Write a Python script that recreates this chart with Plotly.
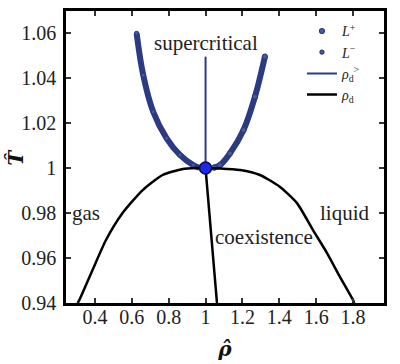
import plotly.graph_objects as go

# coexistence curve (rho, T)
coex_rho = [0.306, 0.315, 0.387, 0.460, 0.550, 0.659, 0.767, 0.876, 0.950, 1.000, 1.080,
            1.187, 1.295, 1.404, 1.496, 1.583, 1.659, 1.729, 1.800, 1.806]
coex_T = [0.9400, 0.9413, 0.9547, 0.9680, 0.9800, 0.9902, 0.9969, 0.9996, 1.0000, 1.0000, 0.9998,
          0.9991, 0.9969, 0.9916, 0.9844, 0.9724, 0.9622, 0.9516, 0.9413, 0.9400]

# diameter rho_d
diam_rho = [1.000, 1.062]
diam_T = [1.000, 0.940]

# supercritical diameter rho_d^>
sup_rho = [1.000, 1.000]
sup_T = [1.000, 1.0495]

# L- branch (low density) and L+ branch (high density)
lm_rho = [0.626, 0.662, 0.716, 0.789, 0.861, 0.933, 0.965]
lm_T = [1.0599, 1.0413, 1.0250, 1.0132, 1.0058, 1.0013, 1.0002]
lp_rho = [1.045, 1.078, 1.132, 1.206, 1.268, 1.322]
lp_T = [1.0002, 1.0013, 1.0065, 1.0169, 1.0317, 1.0495]

crit_rho = [1.0]
crit_T = [1.0]

x_ticks = [0.4, 0.6, 0.8, 1.0, 1.2, 1.4, 1.6, 1.8]
x_labels = ["0.4", "0.6", "0.8", "1", "1.2", "1.4", "1.6", "1.8"]
y_ticks = [0.94, 0.96, 0.98, 1.0, 1.02, 1.04, 1.06]
y_labels = ["0.94", "0.96", "0.98", "1", "1.02", "1.04", "1.06"]

SERIF = "'Liberation Serif', 'DejaVu Serif', serif"
TSERIF = "'DejaVu Serif', serif"
BAND = "#2c3a82"

fig = go.Figure()

# band lines (no legend)
for r, t in [(lm_rho, lm_T), (lp_rho, lp_T)]:
    fig.add_trace(go.Scatter(x=r, y=t, mode="lines", line=dict(color=BAND, width=6, shape="spline"),
                             showlegend=False, hoverinfo="skip"))

fig.add_trace(go.Scatter(x=lp_rho, y=lp_T, mode="markers", name="<i>L</i><sup>+</sup>",
                         marker=dict(symbol="circle", size=5, color="#4a5aa0",
                                     line=dict(color=BAND, width=1.2))))
fig.add_trace(go.Scatter(x=lm_rho, y=lm_T, mode="markers", name="<i>L</i><sup>−</sup>",
                         marker=dict(symbol="circle", size=4, color="#4a5aa0",
                                     line=dict(color=BAND, width=1.2))))
fig.add_trace(go.Scatter(x=sup_rho, y=sup_T, mode="lines", name="<i>ρ</i><sub>d</sub><sup>></sup>",
                         line=dict(color="#2a3a8c", width=2)))
fig.add_trace(go.Scatter(x=diam_rho, y=diam_T, mode="lines", name="<i>ρ</i><sub>d</sub>",
                         line=dict(color="black", width=2.5)))
fig.add_trace(go.Scatter(x=coex_rho, y=coex_T, mode="lines", showlegend=False,
                         line=dict(color="black", width=2.5, shape="spline", smoothing=0.6)))
fig.add_trace(go.Scatter(x=crit_rho, y=crit_T, mode="markers", showlegend=False,
                         marker=dict(size=12, color="#1a2ae8", line=dict(color="#0a0a50", width=1.5))))

annots = [
    dict(x=1.0, y=1.0555, text="supercritical", xanchor="center"),
    dict(x=0.262, y=0.98, text="gas", xanchor="left"),
    dict(x=1.905, y=0.98, text="liquid", xanchor="right"),
    dict(x=1.595, y=0.9695, text="coexistence", xanchor="right"),
]
for a in annots:
    fig.add_annotation(x=a["x"], y=a["y"], text=a["text"], xanchor=a["xanchor"], yanchor="middle",
                       showarrow=False, font=dict(family=SERIF, size=21, color="#222"))

# y-axis title as rotated text
fig.add_annotation(xref="paper", yref="paper", x=-0.158, y=0.5, text="<b><i>T̂</i></b>",
                   textangle=-90, showarrow=False, xanchor="center", yanchor="middle",
                   font=dict(family=TSERIF, size=20, color="#111"))

axis_common = dict(showline=True, linecolor="black", linewidth=2.5, mirror="ticks",
                   ticks="inside", ticklen=5, tickwidth=1.5, tickcolor="#333",
                   showgrid=False, zeroline=False,
                   tickfont=dict(family=SERIF, size=20, color="#222"))

fig.update_xaxes(range=[0.243, 1.968], tickvals=x_ticks, ticktext=x_labels,
                 ticklabelstandoff=-6,
                 title=dict(text="<b><i>ρ̂</i></b>", font=dict(family=TSERIF, size=20, color="#111"),
                            standoff=16),
                 **axis_common)
fig.update_yaxes(range=[0.94, 1.0698], tickvals=y_ticks, ticktext=y_labels,
                 ticklabelstandoff=3,
                 **axis_common)

fig.update_layout(
    width=400, height=364,
    margin=dict(l=66, r=16, t=11, b=61, autoexpand=False),
    plot_bgcolor="white", paper_bgcolor="white",
    font=dict(family=SERIF),
    legend=dict(x=0.742, y=0.985, xanchor="left", yanchor="top", bgcolor="rgba(0,0,0,0)",
                font=dict(family=SERIF, size=14, color="#222"), tracegroupgap=0,
                itemwidth=30),
)

fig.write_html("out.html")
